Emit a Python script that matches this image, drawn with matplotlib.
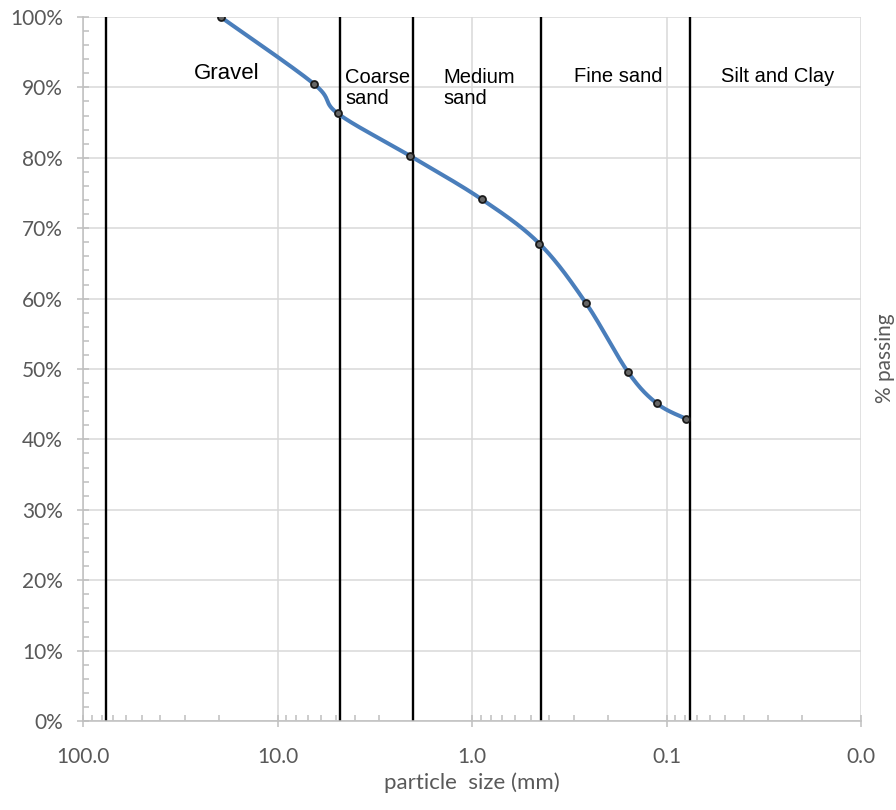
import numpy as np
import matplotlib
matplotlib.use("Agg")
import matplotlib.pyplot as plt
from matplotlib.ticker import (FixedLocator, LogLocator, FuncFormatter,
                               MultipleLocator, PercentFormatter, NullFormatter)

# Grading curve: sieve size (mm) and cumulative percent passing
particle_size_mm = [19.6, 6.5, 4.9, 2.09, 0.89, 0.45, 0.26, 0.158, 0.112, 0.079]
percent_passing = [100.0, 90.5, 86.3, 80.3, 74.1, 67.8, 59.4, 49.6, 45.1, 42.9]

# Soil class boundaries (mm) and zone names
boundaries_mm = [76, 4.75, 2.0, 0.44, 0.076]
zone_labels = ["Gravel", "Coarse\nsand", "Medium\nsand", "Fine sand", "Silt and Clay"]

x_ticks = [100, 10, 1, 0.1, 0.01]
y_ticks = [0, 10, 20, 30, 40, 50, 60, 70, 80, 90, 100]

BLUE = "#4A7EBB"
AXIS_GRAY = "#BFBFBF"
GRID_GRAY = "#D9D9D9"
TEXT_GRAY = "#595959"


def smooth_curve(xs, ys, n=60):
    """Catmull-Rom style Bezier smoothing in (log10 x, y) space."""
    pts = np.column_stack([np.log10(xs), np.asarray(ys, float)])
    ext = np.vstack([pts[0], pts, pts[-1]])
    t = np.linspace(0, 1, n)[:, None]
    parts = []
    for i in range(len(pts) - 1):
        p0, p3 = ext[i + 1], ext[i + 2]
        c1 = p0 + (ext[i + 2] - ext[i]) / 6.0
        c2 = p3 - (ext[i + 3] - ext[i + 1]) / 6.0
        seg = ((1 - t) ** 3) * p0 + 3 * ((1 - t) ** 2) * t * c1 \
            + 3 * (1 - t) * t ** 2 * c2 + t ** 3 * p3
        parts.append(seg if i == 0 else seg[1:])
    s = np.vstack(parts)
    return 10 ** s[:, 0], s[:, 1]


fig = plt.figure(figsize=(8.96, 8.10), dpi=100)
ax = fig.add_axes([83 / 896, 1 - 721 / 810, 778 / 896, 704 / 810])

ax.set_xscale("log")
ax.set_xlim(100, 0.01)
ax.set_ylim(0, 100)

# axes and grid
ax.xaxis.set_major_locator(FixedLocator(x_ticks))
ax.xaxis.set_minor_locator(LogLocator(base=10, subs=np.arange(2, 10)))
ax.xaxis.set_major_formatter(FuncFormatter(lambda v, p: f"{v:.1f}"))
ax.xaxis.set_minor_formatter(NullFormatter())
ax.yaxis.set_major_locator(FixedLocator(y_ticks))
ax.yaxis.set_minor_locator(MultipleLocator(2))
ax.yaxis.set_major_formatter(PercentFormatter(100, decimals=0))

ax.grid(True, which="major", color=GRID_GRAY, linewidth=1.1, zorder=0)
ax.set_axisbelow(True)

for side in ("top", "right"):
    ax.spines[side].set_visible(False)
for side in ("left", "bottom"):
    ax.spines[side].set_color(AXIS_GRAY)
    ax.spines[side].set_linewidth(1.1)

ax.tick_params(which="major", direction="inout", length=9, width=1.1,
               color=AXIS_GRAY, labelcolor=TEXT_GRAY, labelsize=15)
ax.tick_params(which="minor", direction="in", length=4.5, width=1.1,
               color=AXIS_GRAY)
ax.tick_params(axis="x", which="major", pad=14.5)
ax.tick_params(axis="y", which="major", pad=10)
for lab in ax.get_xticklabels() + ax.get_yticklabels():
    lab.set_fontfamily("Lato")

# class boundaries
ax.vlines(boundaries_mm, 0, 100, colors="black", linewidth=1.7, zorder=2)

# grading curve
sx, sy = smooth_curve(particle_size_mm, percent_passing)
ax.plot(sx, sy, color=BLUE, linewidth=2.9, solid_capstyle="butt", zorder=3)
ax.plot(particle_size_mm, percent_passing, linestyle="none", marker="o",
        markersize=5, markerfacecolor="#666666", markeredgecolor="#1A1A1A",
        markeredgewidth=1.3, zorder=4)

# zone names
placements = [
    (0.185, 0.920, "center", 16),
    (0.337, 0.899, "left", 14.5),
    (0.463, 0.899, "left", 14.5),
    (0.688, 0.915, "center", 14.5),
    (0.893, 0.915, "center", 14.5),
]
for text, (px, py, ha, fs) in zip(zone_labels, placements):
    ax.text(px, py, text, transform=ax.transAxes, ha=ha, va="center",
            fontsize=fs, family="Liberation Sans", color="black",
            linespacing=1.1, zorder=5)

ax.set_xlabel("particle  size (mm)", fontsize=16, color=TEXT_GRAY,
              family="Lato")
ax.xaxis.set_label_coords(0.5, -0.088)
ax.xaxis.label.set_va("center")

fig.text(885 / 896, 1 - 358 / 810, "% passing", rotation=90, ha="center",
         va="center", fontsize=15, color=TEXT_GRAY, family="Lato")

fig.savefig("out.png", dpi=100)
